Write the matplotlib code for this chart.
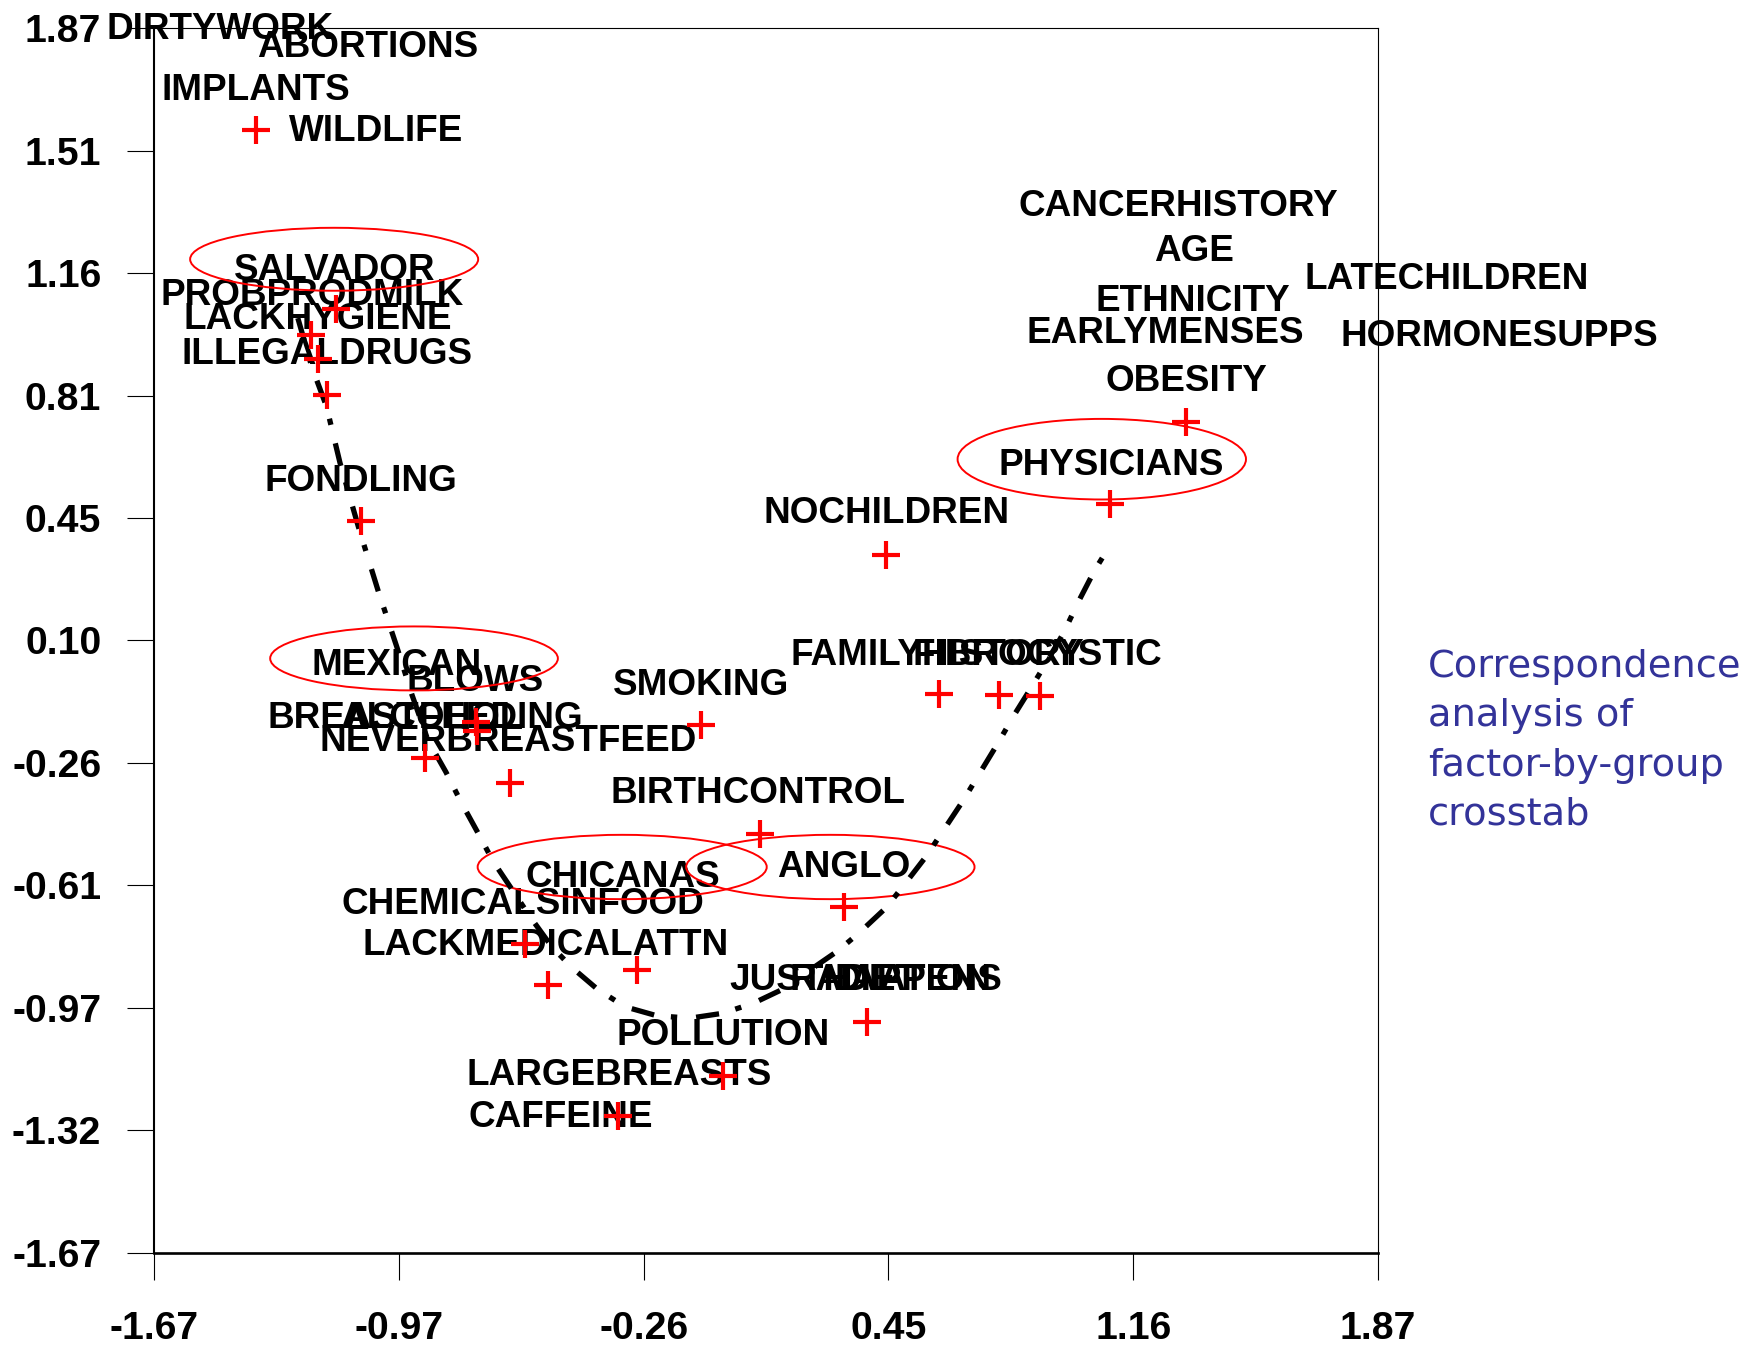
import numpy as np
import matplotlib
matplotlib.use("Agg")
import matplotlib.pyplot as plt
from matplotlib.patches import Ellipse

# factor coordinates (red crosses)
pt_x = [-1.375, -1.144, -1.216, -1.195, -1.169, -1.071, -0.739, -0.736, -0.886,
        -0.641, -0.087, 0.600, 0.774, 0.892, 0.083, 0.325, -0.597, -0.272,
        -0.531, 0.391, -0.025, -0.327, 1.315, 1.096, 0.448]
pt_y = [1.575, 1.058, 0.983, 0.913, 0.810, 0.446, -0.136, -0.162, -0.240,
        -0.313, -0.144, -0.056, -0.059, -0.062, -0.459, -0.672, -0.777, -0.853,
        -0.897, -1.002, -1.160, -1.275, 0.732, 0.494, 0.347]

# factor labels (centre x, baseline y)
labels = ["DIRTYWORK", "ABORTIONS", "IMPLANTS", "WILDLIFE", "SALVADOR",
          "PROBPRODMILK", "LACKHYGIENE", "ILLEGALDRUGS", "FONDLING", "MEXICAN",
          "BLOWS", "BREASTFEEDING", "ALCOHOL", "NEVERBREASTFEED", "SMOKING",
          "BIRTHCONTROL", "CHICANAS", "ANGLO", "CHEMICALSINFOOD",
          "LACKMEDICALATTN", "JUSTHAPPENS", "RADIATION", "DIET", "POLLUTION",
          "LARGEBREASTS", "CAFFEINE", "FAMILYHISTORY", "FIBROCYSTIC",
          "NOCHILDREN", "PHYSICIANS", "OBESITY", "EARLYMENSES", "HORMONESUPPS",
          "ETHNICITY", "LATECHILDREN", "AGE", "CANCERHISTORY"]
lab_x = [-1.480, -1.051, -1.376, -1.028, -1.147, -1.213, -1.196, -1.170, -1.071,
         -0.968, -0.742, -0.886, -0.868, -0.645, -0.088, 0.078, -0.313, 0.325,
         -0.604, -0.536, 0.388, 0.460, 0.420, -0.024, -0.326, -0.494, 0.595,
         0.884, 0.449, 1.097, 1.317, 1.254, 2.220, 1.334, 2.068, 1.339, 1.293]
lab_y = [1.838, 1.788, 1.663, 1.545, 1.142, 1.070, 1.001, 0.898, 0.533, 0.000,
         -0.045, -0.154, -0.154, -0.221, -0.059, -0.371, -0.613, -0.583, -0.690,
         -0.809, -0.910, -0.910, -0.910, -1.069, -1.185, -1.306, 0.029, 0.029,
         0.439, 0.579, 0.821, 0.960, 0.951, 1.053, 1.117, 1.197, 1.328]

# group ellipses
grp_x = [-1.149, -0.918, -0.316, 0.286, 1.071]
grp_y = [1.202, 0.048, -0.555, -0.555, 0.624]
grp_w = [0.833, 0.832, 0.836, 0.834, 0.834]
grp_h = [0.182, 0.185, 0.186, 0.186, 0.233]

# hand-traced trend curve
curve_x = [-1.254, -1.214, -1.171, -1.132, -1.079, -1.021, -0.968, -0.924, -0.878,
           -0.826, -0.780, -0.735, -0.689, -0.638, -0.583, -0.520, -0.462, -0.388,
           -0.308, -0.216, -0.120, -0.026, 0.063, 0.145, 0.227, 0.307, 0.372,
           0.448, 0.507, 0.564, 0.617, 0.670, 0.719, 0.770, 0.818, 0.869, 0.910,
           0.959, 1.006, 1.051, 1.100]
curve_y = [1.032, 0.892, 0.776, 0.613, 0.429, 0.241, 0.082, -0.057, -0.188,
           -0.280, -0.371, -0.453, -0.539, -0.615, -0.698, -0.785, -0.845, -0.908,
           -0.959, -0.985, -0.992, -0.978, -0.949, -0.910, -0.853, -0.798, -0.743,
           -0.672, -0.597, -0.523, -0.443, -0.363, -0.282, -0.198, -0.115, -0.033,
           0.035, 0.119, 0.217, 0.304, 0.383]

ticks = np.linspace(-1.67, 1.87, 11)
tick_labels = ["-1.67", "-1.32", "-0.97", "-0.61", "-0.26", "0.10", "0.45",
               "0.81", "1.16", "1.51", "1.87"]

note = ["Correspondence", "analysis of", "factor-by-group", "crosstab"]

fig = plt.figure(figsize=(17.62, 13.5), dpi=100)
ax = fig.add_axes([0.0874, 0.0721, 0.6947, 0.9070])
ax.set_xlim(-1.67, 1.87)
ax.set_ylim(-1.67, 1.87)

bold = dict(family="Liberation Sans", fontweight="bold")

for name, x, y in zip(labels, lab_x, lab_y):
    ax.text(x, y, name, ha="center", va="baseline", fontsize=26.6,
            clip_on=False, zorder=2, **bold)

for x, y, w, h in zip(grp_x, grp_y, grp_w, grp_h):
    ax.add_patch(Ellipse((x, y), w, h, fill=False, ec="red", lw=1.4, zorder=3))

ax.plot(curve_x, curve_y, color="black", lw=3.8,
        linestyle=(0, (4.4, 3.2, 1.2, 3.6)), zorder=3)

ax.plot(pt_x, pt_y, linestyle="none", marker="+", ms=20, mew=3.0,
        color="red", zorder=4)

ax.set_yticks(ticks)
ax.set_yticklabels(tick_labels)
ax.set_xticks(ticks[::2])
ax.set_xticklabels(tick_labels[::2])
ax.tick_params(axis="y", direction="out", length=19.4, width=0.8, pad=18.5)
ax.tick_params(axis="x", direction="out", length=19.4, width=0.8, pad=22.5)
for lab in ax.get_xticklabels() + ax.get_yticklabels():
    lab.set_fontfamily("Liberation Sans")
    lab.set_fontweight("bold")
    lab.set_fontsize(28.2)

ax.spines["left"].set_linewidth(1.5)
ax.spines["bottom"].set_linewidth(1.9)
ax.spines["top"].set_linewidth(0.8)
ax.spines["right"].set_linewidth(0.8)

for i, line in enumerate(note):
    fig.text(0.8105, 0.4987 - i * 0.0366, line, color="#333399",
             fontsize=27.6, family="DejaVu Sans", va="baseline", ha="left")

fig.savefig("out.png", dpi=100)
